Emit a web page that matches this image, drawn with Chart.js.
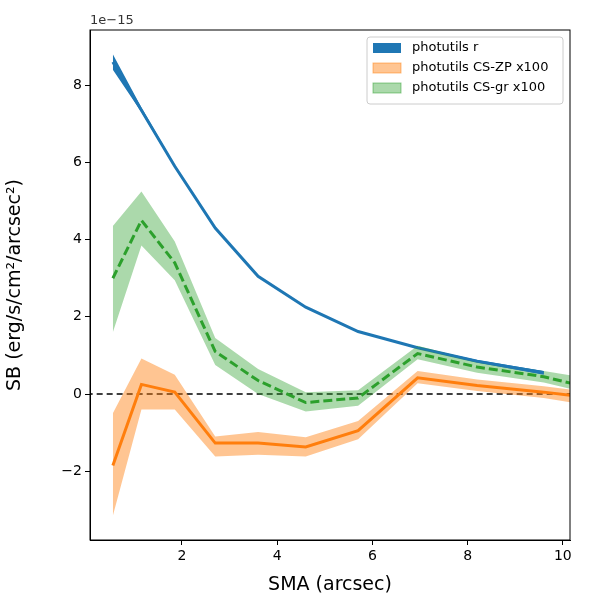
<!DOCTYPE html>
<html><head><script src="https://cdn.jsdelivr.net/npm/chart.js"></script>
<style>body{margin:0}#c{width:600px;height:600px}</style></head>
<body><div id="c"><canvas id="cv" width="600" height="600"></canvas></div>
<script>
const xs=[0.55,1.15,1.85,2.7,3.6,4.6,5.7,6.95,8.2,9.6,10.6];
const rMid=[8.6,7.35,5.9,4.3,3.05,2.25,1.62,1.2,0.85,0.55];
const rLo=[8.4,7.3,5.87,4.28,3.03,2.23,1.6,1.18,0.82,0.5];
const rHi=[8.8,7.42,5.93,4.32,3.07,2.27,1.64,1.22,0.88,0.6];
const gMid=[3.0,4.5,3.4,1.1,0.35,-0.22,-0.1,1.05,0.7,0.45,0.15];
const gLo=[1.6,3.85,2.95,0.75,0.0,-0.45,-0.3,0.9,0.55,0.3,0.0];
const gHi=[4.35,5.25,3.95,1.45,0.65,0.05,0.1,1.25,0.85,0.6,0.4];
const oMid=[-1.85,0.25,0.05,-1.27,-1.27,-1.37,-0.95,0.42,0.22,0.05,-0.1];
const oLo=[-3.15,-0.4,-0.4,-1.62,-1.57,-1.62,-1.17,0.28,0.08,-0.1,-0.3];
const oHi=[-0.5,0.92,0.5,-1.1,-0.98,-1.12,-0.7,0.6,0.38,0.2,0.05];
const yTicks=[-2,0,2,4,6,8];
const xTicks=[2,4,6,8,10];
const pts=a=>a.map((y,i)=>({x:xs[i],y}));
const B='#1f77b4',O='#ff7f0e',G='#2ca02c';
const band=(d,c,f)=>({data:pts(d),borderWidth:0,pointRadius:0,backgroundColor:c,fill:f,borderColor:'transparent'});
const line=(d,c,dash)=>({data:pts(d),borderColor:c,borderWidth:3,borderDash:dash||[],pointRadius:0,fill:false});
const ds=[band(rHi,B,'+1'),band(rLo,B,false),band(oHi,'rgba(255,127,14,0.45)','+1'),band(oLo,O,false),
band(gHi,'rgba(44,160,44,0.4)','+1'),band(gLo,G,false),line(rMid,B),line(oMid,O),line(gMid,G,[9,4]),
{data:[{x:0,y:0},{x:11,y:0}],borderColor:'#000',borderWidth:1.5,borderDash:[6,4],pointRadius:0,fill:false}];
const extra={id:'extra',afterDraw(ch){const c=ch.ctx,a=ch.chartArea;c.save();
c.strokeStyle='#000';c.lineWidth=1;c.strokeRect(a.left,a.top,a.right-a.left,a.bottom-a.top);
c.fillStyle='#333';c.font='13px DejaVu Sans';c.textAlign='left';c.fillText('1e\u221215',a.left,a.top-6);
const L=[['photutils r',B,1],['photutils CS-ZP x100','rgba(255,127,14,0.45)',0],['photutils CS-gr x100','rgba(44,160,44,0.4)',0]];
const bx=367,by=37,bw=196,bh=67;c.fillStyle='rgba(255,255,255,0.8)';c.strokeStyle='#ccc';c.beginPath();c.roundRect(bx,by,bw,bh,3);c.fill();c.stroke();
L.forEach((l,i)=>{const y=by+11+i*20;c.fillStyle=l[1];c.fillRect(bx+6,y-5,28,10);if(!l[2]){c.strokeStyle=i==1?O:G;c.globalAlpha=0.5;c.strokeRect(bx+6,y-5,28,10);c.globalAlpha=1;}
c.fillStyle='#000';c.font='13px DejaVu Sans';c.textBaseline='middle';c.fillText(l[0],bx+45,y);});c.restore();}};
const gr={display:true,drawOnChartArea:false,drawTicks:true,tickLength:5,tickColor:'#000',color:'#000'};
new Chart(document.getElementById('cv'),{type:'line',data:{datasets:ds},plugins:[extra],
options:{responsive:false,animation:false,layout:{padding:{top:30,right:30,left:0,bottom:0}},
plugins:{legend:{display:false},tooltip:{enabled:false}},
scales:{x:{type:'linear',min:0.07,max:10.15,afterFit(s){s.height=60},afterBuildTicks(s){s.ticks=xTicks.map(v=>({value:v}))},
grid:gr,border:{color:'#000'},ticks:{color:'#000',font:{size:14,family:'DejaVu Sans'}},
title:{display:true,text:'SMA (arcsec)',color:'#000',font:{size:19,family:'DejaVu Sans'},padding:{top:0}}},
y:{min:-3.78,max:9.43,afterFit(s){s.width=90},afterBuildTicks(s){s.ticks=yTicks.map(v=>({value:v}))},
grid:gr,border:{color:'#000'},ticks:{color:'#000',font:{size:14,family:'DejaVu Sans'},callback:v=>v<0?'\u2212'+(-v):''+v},
title:{display:true,text:'SB (erg/s/cm\u00b2/arcsec\u00b2)',color:'#000',font:{size:19,family:'DejaVu Sans'}}}}}});
</script></body></html>
